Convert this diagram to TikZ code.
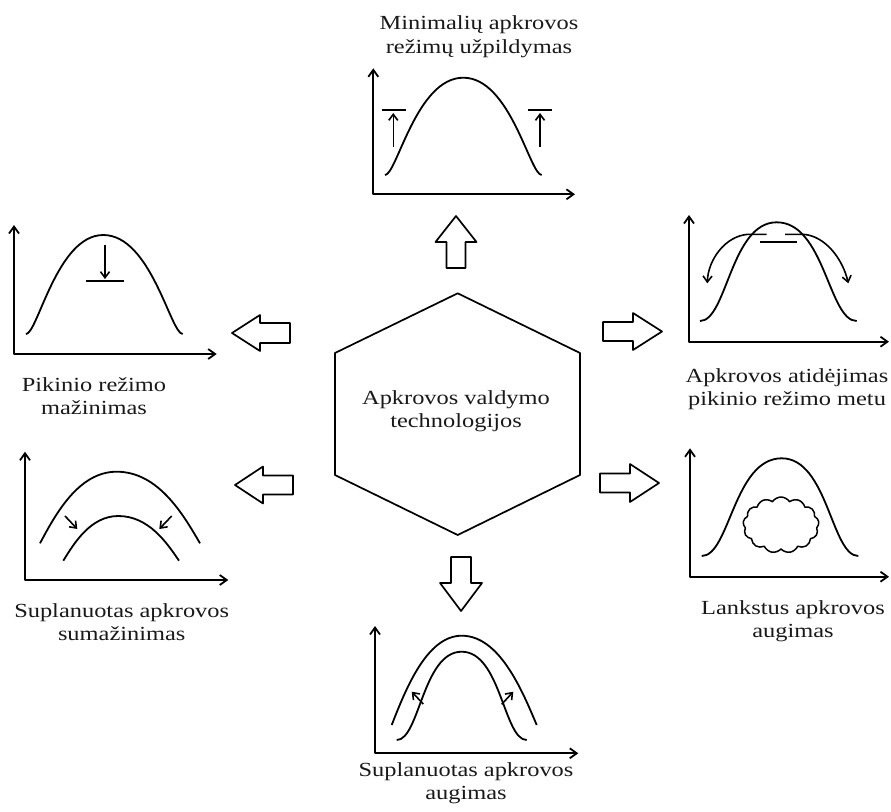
\documentclass[tikz,border=0pt]{standalone}
\usepackage{fontspec}
\setmainfont{Liberation Serif}
\newfontfamily\lblfont[FakeStretch=1.22]{Liberation Serif}
\usetikzlibrary{arrows.meta,shapes.symbols}
\newcommand{\bellc}[7]{% x0 yb xp yp x1 a k
  \draw[crv] (#1,#2) .. controls ({#1+#6*(#3-#1)},#2) and ({#3-#7*(#3-#1)},#4) .. (#3,#4)
   .. controls ({#3+#7*(#5-#3)},#4) and ({#5-#6*(#5-#3)},#2) .. (#5,#2);}
\newcommand{\archc}[5]{% x0 yb xp yp x1
  \draw[crv] (#1,#2) .. controls ({#1+0.2*(#3-#1)},{#2+0.4*(#4-#2)}) and ({#3-0.5*(#3-#1)},#4) .. (#3,#4)
   .. controls ({#3+0.5*(#5-#3)},#4) and ({#5-0.2*(#5-#3)},{#2+0.4*(#4-#2)}) .. (#5,#2);}
\begin{document}
\begin{tikzpicture}[x=1pt,y=-1pt,line join=round,
  axis/.style={line width=1.8pt,{Straight Barb[length=7pt,width=10pt]}-{Straight Barb[length=7pt,width=10pt]}},
  crv/.style={line width=1.8pt},
  smallarr/.style={line width=1.6pt,-{Straight Barb[length=6pt,width=9pt]}},
  blk/.style={line width=1.7pt,fill=white},
  lbl/.style={font=\lblfont\fontsize{20}{23.5}\selectfont,align=center,inner sep=0pt,text=black!90}]
\useasboundingbox (0,0) rectangle (891,811);

% ---- hexagon centre ----
\draw[line width=1.7pt] (457.7,293.3) -- (580,353) -- (580,475) -- (457.7,535) -- (335,475) -- (335,353) -- cycle;
\node[lbl] (hex) at (456,411) {Apkrovos valdymo\\technologijos};

% ---- block arrows ----
\draw[blk] (456,216) -- (476.5,242) -- (465.5,242) -- (465.5,268) -- (446.5,268) -- (446.5,242) -- (435.5,242) -- cycle;
\draw[blk] (232,333) -- (260,315) -- (260,323) -- (290,323) -- (290,343) -- (260,343) -- (260,351) -- cycle;
\draw[blk] (235,485) -- (263,466.5) -- (263,475.5) -- (293,475.5) -- (293,494.5) -- (263,494.5) -- (263,503.5) -- cycle;
\draw[blk] (662,331.5) -- (633,313) -- (633,322) -- (603,322) -- (603,341) -- (633,341) -- (633,350) -- cycle;
\draw[blk] (659,483) -- (630,464) -- (630,473.5) -- (600,473.5) -- (600,492.5) -- (630,492.5) -- (630,502) -- cycle;
\draw[blk] (461,611) -- (482,583) -- (471,583) -- (471,557) -- (451,557) -- (451,583) -- (440,583) -- cycle;

% ---- top chart ----
\node[lbl] (ttop) at (479,36.5) {Minimalių apkrovos\\režimų užpildymas};
\draw[axis] (373.3,68.3) -- (373.3,194.3) -- (575,194.3);
\bellc{385}{175}{463.3}{77.7}{541.7}{0.15}{0.6}
\draw[crv] (381.7,110) -- (405.7,110);
\draw[smallarr] (393.3,146.7) -- (393.3,113);
\draw[crv] (528.3,110) -- (552.3,110);
\draw[smallarr] (540,146.7) -- (540,113);

% ---- left top chart ----
\node[lbl] (tlt) at (94,396) {Pikinio režimo\\mažinimas};
\draw[axis] (14,225) -- (14,354) -- (216.7,354);
\bellc{26}{334}{103.3}{235}{182.7}{0.15}{0.6}
\draw[crv] (86,281) -- (124,281);
\draw[smallarr] (105,245) -- (105,279);

% ---- right top chart ----
\node[lbl] (trt) at (787,389) {Apkrovos atidėjimas\\pikinio režimo metu};
\draw[axis] (689,215) -- (689,341.7) -- (889,341.7);
\bellc{700}{321}{776.7}{222.3}{856.7}{0.35}{0.6}
\draw[crv] (760,241.7) -- (796.7,241.7);
\draw[smallarr] (766.7,234.3) -- (748,234.3) .. controls (725,236) and (708,260) .. (707.3,283.3);
\draw[smallarr] (785,234.3) -- (803.3,234.3) .. controls (826,236) and (843,260) .. (848.3,283.3);

% ---- left bottom chart ----
\node[lbl] (tlb) at (121.7,622) {Suplanuotas apkrovos\\sumažinimas};
\draw[axis] (25,451.7) -- (25,580) -- (228.3,580);
\archc{40}{543.3}{116.7}{471.7}{200}
\archc{63.3}{560.7}{118.3}{516}{179}
\draw[smallarr] (65,516) -- (77.3,529);
\draw[smallarr] (171.7,516) -- (159.3,529);

% ---- right bottom chart ----
\node[lbl] (trb) at (793,621) {Lankstus apkrovos\\augimas};
\draw[axis] (690,448.3) -- (690,576.7) -- (889,576.7);
\bellc{701.7}{556}{781.7}{458.3}{858.3}{0.35}{0.6}
\node[cloud,draw,line width=1.5pt,cloud puffs=13,cloud puff arc=115,aspect=1.35,minimum width=76pt,minimum height=56pt,inner sep=0pt] (cld) at (781,525) {};

% ---- bottom chart ----
\node[lbl] (tb) at (466,783) {Suplanuotas apkrovos\\augimas};
\draw[axis] (375,626) -- (375,753.3) -- (578.3,753.3);
\archc{391.7}{725}{461.7}{635.7}{536.7}
\bellc{396.7}{740}{461.7}{651.7}{526.7}{0.35}{0.6}
\draw[smallarr] (423.3,704) -- (411.7,691.7);
\draw[smallarr] (501.7,704.3) -- (513.3,691.7);
\end{tikzpicture}
\end{document}
